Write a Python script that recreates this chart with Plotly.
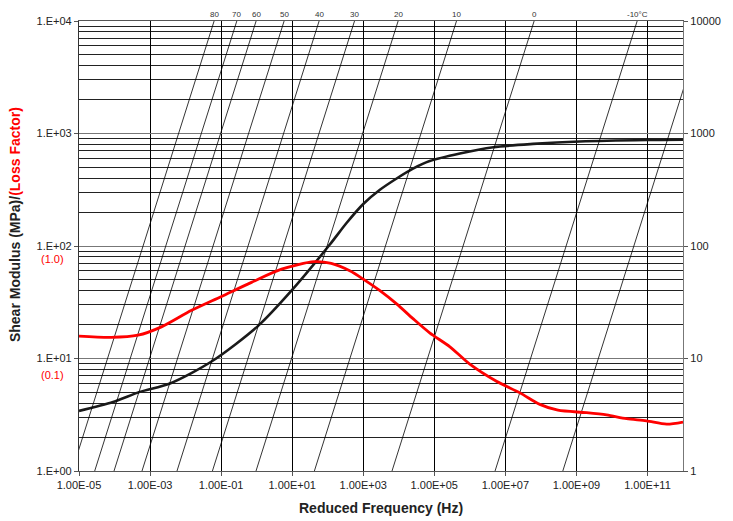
import plotly.graph_objects as go

# Reduced frequency (Hz) samples and shear modulus (MPa)
g_freq = [1e-5, 10**-4.04, 10**-3.29, 10**-2.44, 10**-1.27, 10**0.04, 10**0.98, 10**2.06,
          10**2.53, 10**3.0, 10**3.47, 10**3.94, 10**4.40, 10**4.87, 10**5.72, 10**6.66,
          10**7.78, 10**9.09, 10**10.97, 1e12]
g_mod = [3.42, 4.1, 5.05, 6.0, 9.4, 19.5, 40.1, 103, 160, 236, 316, 398, 487, 569, 665, 755,
         808, 850, 876, 881]

# Reduced frequency (Hz) samples and loss factor
eta_freq = [1e-5, 10**-4.09, 10**-3.34, 10**-2.68, 10**-1.83, 10**-0.99, 10**-0.145, 10**0.70,
            10**1.62, 10**2.1, 10**2.62, 10**3.0, 10**3.47, 10**3.94, 10**4.40, 10**4.87,
            10**5.44, 10**6.0, 10**6.75, 10**7.41, 10**7.97, 10**8.48, 10**9.28, 10**9.85,
            10**10.41, 10**10.97, 10**11.54, 1e12]
eta = [0.158, 0.154, 0.161, 0.191, 0.268, 0.356, 0.475, 0.622, 0.726, 0.70, 0.602, 0.508,
       0.401, 0.306, 0.226, 0.169, 0.127, 0.089, 0.0627, 0.0495, 0.0391, 0.0347, 0.033,
       0.0315, 0.0292, 0.0279, 0.0261, 0.0272]

# Isotherms: temperature (°C) and log10 shift factor aT
temps = [80, 70, 60, 50, 40, 30, 20, 10, 0, -10, -20]
log_aT = [-5.197, -4.558, -4.015, -3.227, -2.242, -1.245, -0.018, 1.625, 3.81, 6.71, 8.617]
temp_labels = ["80", "70", "60", "50", "40", "30", "20", "10", "0", "-10°C", ""]

x_tickvals = [1e-5, 1e-3, 1e-1, 1e1, 1e3, 1e5, 1e7, 1e9, 1e11]
x_ticktext = ["1.00E-05", "1.00E-03", "1.00E-01", "1.00E+01", "1.00E+03",
              "1.00E+05", "1.00E+07", "1.00E+09", "1.00E+11"]
y_tickvals = [1, 10, 100, 1000, 10000]
y_ticktext = ["1.E+00", "1.E+01", "1.E+02", "1.E+03", "1.E+04"]
y2_ticktext = ["1", "10", "100", "1000", "10000"]

TICKFONT = dict(family="Liberation Sans, Arial, sans-serif", size=11, color="#222")
TITLEFONT = "Liberation Sans Narrow, Liberation Sans, Arial, sans-serif"

fig = go.Figure()

# isotherm lines on right (frequency) axis
for a in log_aT:
    fig.add_trace(go.Scatter(x=[10**a, 10**(a + 4)], y=[1, 1e4], mode="lines",
                             line=dict(color="black", width=0.8), yaxis="y2",
                             hoverinfo="skip", showlegend=False))

fig.add_trace(go.Scatter(x=g_freq, y=g_mod, mode="lines",
                         line=dict(color="#1a1a1a", width=2.6, shape="spline", smoothing=0.8),
                         showlegend=False))
fig.add_trace(go.Scatter(x=eta_freq, y=eta, mode="lines",
                         line=dict(color="#ff0000", width=2.8, shape="spline", smoothing=0.8),
                         yaxis="y3", showlegend=False))

annotations = []
for a, lab in zip(log_aT, temp_labels):
    if lab:
        annotations.append(dict(x=a + 4, y=1, xref="x", yref="paper", text=lab, showarrow=False,
                                xanchor="center", yanchor="bottom", yshift=0,
                                font=dict(family="Liberation Sans, Arial", size=8, color="#333")))

annotations += [
    dict(x=0, y=0.5465, xref="paper", yref="paper", xshift=-64, xanchor="center", yanchor="middle",
         text="<b>Shear Modulus (MPa)/<span style='color:red'>(Loss Factor)</span></b>",
         textangle=-90, showarrow=False, font=dict(family=TITLEFONT, size=14, color="#222")),
    dict(x=0.5, y=0, xref="paper", yref="paper", yshift=-37, xanchor="center", yanchor="middle",
         text="<b>Reduced Frequency (Hz)</b>",
         showarrow=False, font=dict(family=TITLEFONT, size=14, color="#222")),
    dict(x=1, y=0.564, xref="paper", yref="paper", xshift=48, xanchor="left", yanchor="middle",
         text="<b>Frequency (Hz)</b>",
         textangle=-90, showarrow=False, font=dict(family=TITLEFONT, size=14, color="#222")),
    dict(x=0, y=2, xref="paper", yref="y", xshift=-27, yshift=-13, xanchor="center", text="(1.0)",
         showarrow=False, font=dict(family="Liberation Sans, Arial", size=11, color="red")),
    dict(x=0, y=1, xref="paper", yref="y", xshift=-27, yshift=-16, xanchor="center", text="(0.1)",
         showarrow=False, font=dict(family="Liberation Sans, Arial", size=11, color="red")),
]

fig.update_layout(
    width=725, height=513,
    margin=dict(l=71, r=50, t=7, b=50),
    paper_bgcolor="white", plot_bgcolor="white",
    annotations=annotations,
    xaxis=dict(type="log", range=[-5, 12], tickvals=x_tickvals, ticktext=x_ticktext,
               showgrid=True, gridcolor="black", gridwidth=1, ticks="outside", ticklen=4,
               tickcolor="#555", showline=True, linecolor="#555", linewidth=1.2, mirror=True,
               tickfont=TICKFONT, zeroline=False),
    yaxis=dict(type="log", range=[0, 4], tickvals=y_tickvals, ticktext=y_ticktext,
               showgrid=True, gridcolor="#777", gridwidth=1, ticks="outside", ticklen=4,
               tickcolor="#555", showline=True, linecolor="#333", linewidth=1.2,
               minor=dict(dtick="D1", showgrid=True, gridcolor="#222", gridwidth=1, ticks=""),
               tickfont=TICKFONT, zeroline=False),
    yaxis2=dict(type="log", range=[0, 4], overlaying="y", side="right", tickvals=y_tickvals,
                ticktext=y2_ticktext, showgrid=False, ticks="outside", ticklen=4, tickcolor="#555",
                showline=True, linecolor="#777", linewidth=1.2, tickfont=TICKFONT, zeroline=False),
    yaxis3=dict(type="log", range=[-2, 2], overlaying="y", visible=False),
)

fig.write_html("out.html")
